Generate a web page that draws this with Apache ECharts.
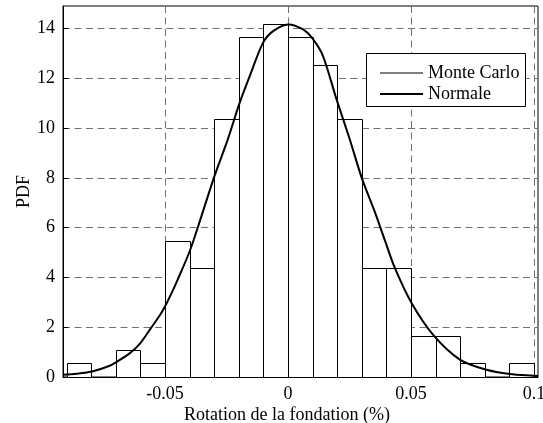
<!DOCTYPE html>
<html><head><meta charset="utf-8">
<script src="https://cdn.jsdelivr.net/npm/echarts@6/dist/echarts.min.js"></script>
<style>html,body{margin:0;padding:0;background:#fff}#c{width:543px;height:423px}</style>
</head><body><div id="c"></div>
<script>
// Histogram bins (left and right edges) and PDF heights
const binStarts = [-0.09,-0.08,-0.07,-0.06,-0.05,-0.04,-0.03,-0.02,-0.01,0.00,0.01,0.02,0.03,0.04,0.05,0.06,0.07,0.08,0.09];
const binEnds   = [-0.08,-0.07,-0.06,-0.05,-0.04,-0.03,-0.02,-0.01,0.00,0.01,0.02,0.03,0.04,0.05,0.06,0.07,0.08,0.09,0.10];
const binHeights = [0.55,0,1.09,0.55,5.45,4.36,10.36,13.64,14.18,13.64,12.55,10.36,4.36,4.36,1.64,1.64,0.55,0,0.55];

// Normal curve points
const curveX = [-0.0915,-0.086,-0.0793,-0.0725,-0.0698,-0.0643,-0.0603,-0.0562,-0.052,-0.05,-0.0467,-0.0447,-0.04,-0.0359,-0.0301,-0.025,-0.023,-0.0199,-0.0156,-0.0102,-0.0061,0,0.0061,0.0102,0.0142,0.0197,0.0251,0.0298,0.035,0.0395,0.0434,0.0502,0.0589,0.0698,0.0807,0.0901,0.0996,0.1016];
const curveY = [0.09,0.13,0.23,0.45,0.60,0.96,1.33,1.90,2.50,2.84,3.51,3.95,5.05,6.25,8.02,9.40,10.0,10.95,12.08,13.42,13.89,14.16,13.96,13.56,12.89,11.15,9.54,8.04,6.70,5.45,4.38,2.97,1.70,0.70,0.29,0.12,0.05,0.04];

const xTicks = [-0.05, 0, 0.05, 0.1];
const yTicks = [0, 2, 4, 6, 8, 10, 12, 14];

const FONT = 'Liberation Serif';
const chart = echarts.init(document.getElementById('c'), null, {renderer: 'canvas'});

const histData = binStarts.map((s, i) => [s, binEnds[i], binHeights[i]]);
const curveData = curveX.map((x, i) => [x, curveY[i]]);

const gridLine = {show: true, lineStyle: {color: '#707070', width: 1, type: [7, 4.5]}};

chart.setOption({
  animation: false,
  backgroundColor: '#fff',
  grid: {left: 63, right: 5, top: 6, bottom: 46, containLabel: false, outerBoundsMode: 'none',
    show: true, borderColor: '#000', borderWidth: 1, backgroundColor: 'transparent'},
  xAxis: {
    type: 'value', min: -0.0915, max: 0.1016,
    name: 'Rotation de la fondation (%)', nameLocation: 'middle', nameGap: 29, nameMoveOverlap: false,
    nameTextStyle: {fontFamily: FONT, fontSize: 18, color: '#000', padding: [0, 27, 0, 0]},
    axisLine: {show: true, onZero: false, lineStyle: {color: '#000', width: 1}},
    axisTick: {show: true, inside: true, length: 5, customValues: xTicks, lineStyle: {color: '#000'}},
    axisLabel: {customValues: xTicks, margin: 8, fontFamily: FONT, fontSize: 18, color: '#000',
      formatter: v => (v === 0 ? '0' : String(+v.toFixed(2)))},
    splitLine: gridLine
  },
  yAxis: {
    type: 'value', min: 0, max: 14.9,
    name: 'PDF', nameLocation: 'middle', nameGap: 30, nameRotate: 90, nameMoveOverlap: false,
    nameTextStyle: {fontFamily: FONT, fontSize: 18, color: '#000'},
    axisLine: {show: true, onZero: false, lineStyle: {color: '#000', width: 1}},
    axisTick: {show: true, inside: true, length: 5, customValues: yTicks, lineStyle: {color: '#000'}},
    axisLabel: {customValues: yTicks, margin: 8, fontFamily: FONT, fontSize: 18, color: '#000'},
    splitLine: gridLine
  },
  legend: [
    {data: [{name: 'Monte Carlo', icon: 'rect'}], left: 375, top: 58, itemWidth: 43, itemHeight: 1, itemGap: 0,
     textStyle: {fontFamily: FONT, fontSize: 18, color: '#000', lineHeight: 20}, selectedMode: false, z: 6},
    {data: [{name: 'Normale', icon: 'rect'}], left: 375, top: 79, itemWidth: 43, itemHeight: 2, itemGap: 0,
     textStyle: {fontFamily: FONT, fontSize: 18, color: '#000', lineHeight: 20}, selectedMode: false, z: 6}
  ],
  graphic: [{type: 'rect', z: 5, shape: {x: 366.5, y: 53.5, width: 159, height: 53},
    style: {fill: '#fff', stroke: '#000', lineWidth: 1}}],
  series: [
    {
      name: 'Monte Carlo', type: 'custom', z: 2,
      itemStyle: {color: '#000'},
      renderItem: function (params, api) {
        const x0 = api.value(0), x1 = api.value(1), h = api.value(2);
        if (h <= 0) return null;
        const p0 = api.coord([x0, h]);
        const p1 = api.coord([x1, 0]);
        return {type: 'rect', shape: {x: Math.round(p0[0]) + 0.5, y: Math.round(p0[1]) + 0.5,
          width: Math.round(p1[0]) - Math.round(p0[0]), height: Math.round(p1[1]) - Math.round(p0[1])},
          style: {fill: '#fff', stroke: '#000', lineWidth: 1}};
      },
      encode: {x: [0, 1], y: 2},
      data: histData
    },
    {
      name: 'Normale', type: 'line', z: 3, data: curveData, smooth: 0.3, showSymbol: false, symbol: 'none',
      itemStyle: {color: '#000'}, lineStyle: {color: '#000', width: 2}
    }
  ]
});
</script></body></html>
